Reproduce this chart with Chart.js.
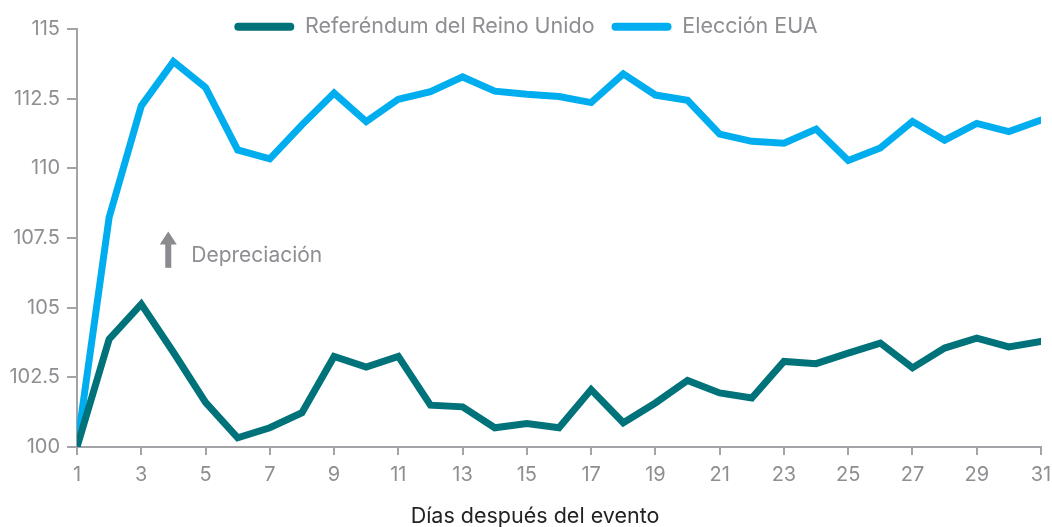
<!DOCTYPE html>
<html>
<head>
<meta charset="utf-8">
<script src="https://cdn.jsdelivr.net/npm/chart.js@4"></script>
<style>
  body { margin: 0; background: #fff; }
  #wrap { width: 1052px; height: 527px; }
</style>
</head>
<body>
<div id="wrap"><canvas id="chartFx"></canvas></div>
<script>
// DATA
const days = [1,2,3,4,5,6,7,8,9,10,11,12,13,14,15,16,17,18,19,20,21,22,23,24,25,26,27,28,29,30,31];
const referendumUK = [100, 103.87, 105.13, 103.4, 101.6, 100.33, 100.69, 101.23, 103.25, 102.87,
  103.25, 101.5, 101.44, 100.69, 100.84, 100.69, 102.06, 100.87, 101.58, 102.39,
  101.94, 101.76, 103.07, 102.99, 103.37, 103.73, 102.84, 103.55, 103.91, 103.59, 103.79];
const eleccionEUA = [100, 108.24, 112.24, 113.83, 112.9, 110.66, 110.34, 111.56, 112.7, 111.68,
  112.48, 112.75, 113.28, 112.77, 112.66, 112.58, 112.36, 113.39, 112.63, 112.44,
  111.23, 110.97, 110.9, 111.41, 110.28, 110.73, 111.68, 111.01, 111.61, 111.32, 111.73];
const xTicks = [1,3,5,7,9,11,13,15,17,19,21,23,25,27,29,31];
const yTicks = [100, 102.5, 105, 107.5, 110, 112.5, 115];
const xTitle = "Días después del evento";

const gray = "#8e8e93";
const axisGray = "#a3a3a8";
const fontFamily = "Inter, 'Noto Sans', sans-serif";

const toPoints = arr => arr.map((v, i) => ({ x: days[i], y: v }));

// annotation: arrow + "Depreciación", and the x axis title (centred on the page, not the plot)
const annotations = {
  id: "annotations",
  afterDatasetsDraw(chart) {
    const { ctx, scales: { x, y } } = chart;
    const ax = x.getPixelForValue(3.84);
    const top = y.getPixelForValue(107.73);
    const bottom = y.getPixelForValue(106.43);
    ctx.save();
    ctx.fillStyle = "#8a8a8f";
    ctx.fillRect(ax - 3, top + 12, 6, bottom - top - 12);
    ctx.beginPath();
    ctx.moveTo(ax, top);
    ctx.lineTo(ax + 8.5, top + 13);
    ctx.lineTo(ax - 8.5, top + 13);
    ctx.closePath();
    ctx.fill();
    ctx.fillStyle = gray;
    ctx.font = "21px " + fontFamily;
    ctx.textBaseline = "middle";
    ctx.fillText("Depreciación", ax + 23, y.getPixelForValue(106.86));

    ctx.fillStyle = "#222";
    ctx.font = "21.5px " + fontFamily;
    ctx.textAlign = "center";
    ctx.fillText(xTitle, 535, chart.height - 10);
    ctx.restore();
  }
};

// keep the legend band short so the plot starts right under it
const legendHeight = {
  id: "legendHeight",
  afterInit(chart) {
    const lg = chart.legend;
    if (!lg) return;
    const fit = lg.fit;
    lg.fit = function () { fit.call(this); this.height = 30; };
    const draw = lg.draw;
    lg.draw = function () {
      const b = this.bottom;
      this.bottom = b + 20;
      draw.call(this);
      this.bottom = b;
    };
  }
};

new Chart(document.getElementById("chartFx"), {
  type: "line",
  data: {
    datasets: [{
      label: "Referéndum del Reino Unido",
      data: toPoints(referendumUK),
      borderColor: "#00727a",
      backgroundColor: "#00727a",
      borderWidth: 7,
      pointRadius: 0,
      borderCapStyle: "round",
      borderJoinStyle: "miter"
    }, {
      label: "Elección EUA",
      data: toPoints(eleccionEUA),
      borderColor: "#00aeef",
      backgroundColor: "#00aeef",
      borderWidth: 7,
      pointRadius: 0,
      borderCapStyle: "round",
      borderJoinStyle: "miter"
    }]
  },
  options: {
    responsive: true,
    maintainAspectRatio: false,
    animation: false,
    layout: { padding: { left: 0, right: 0, top: -1, bottom: 0 } },
    plugins: {
      tooltip: { enabled: false },
      legend: {
        position: "top",
        labels: {
          color: gray,
          font: { family: fontFamily, size: 21.5 },
          boxWidth: 60,
          boxHeight: 8,
          useBorderRadius: true,
          borderRadius: 4,
          padding: 17,
          generateLabels: chart => Chart.defaults.plugins.legend.labels.generateLabels(chart)
            .map(l => ({ ...l, lineWidth: 0 }))
        }
      }
    },
    scales: {
      x: {
        type: "linear",
        min: 1,
        max: 31,
        afterBuildTicks: axis => { axis.ticks = xTicks.map(v => ({ value: v })); },
        afterFit: axis => { axis.paddingRight = 11; axis.paddingLeft = 0; axis.height = 80; },
        ticks: { color: gray, font: { family: fontFamily, size: 20 }, padding: 8, maxRotation: 0 },
        grid: { drawOnChartArea: false, drawTicks: true, tickLength: 8, color: axisGray, lineWidth: 2 },
        border: { color: axisGray, width: 2 }
      },
      y: {
        min: 100,
        max: 115,
        afterBuildTicks: axis => { axis.ticks = yTicks.map(v => ({ value: v })); },
        afterFit: axis => { axis.width = 77; },
        ticks: { color: gray, font: { family: fontFamily, size: 20 }, padding: 7,
          callback: v => String(v) },
        grid: { drawOnChartArea: false, drawTicks: true, tickLength: 10, color: axisGray, lineWidth: 2 },
        border: { color: axisGray, width: 2 }
      }
    }
  },
  plugins: [annotations, legendHeight]
});
</script>
</body>
</html>
